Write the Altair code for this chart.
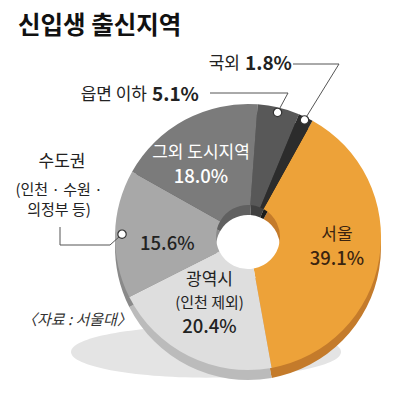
import math
import altair as alt
import numpy as np
import pandas as pd

FONT = "Noto Sans CJK KR"

# ---- data ----
categories = ["서울", "광역시", "수도권", "그외 도시지역", "읍면 이하", "국외"]
shares = [39.1, 20.4, 15.6, 18.0, 5.1, 1.8]
pct_labels = ["39.1%", "20.4%", "15.6%", "18.0%", "5.1%", "1.8%"]
title_text = "신입생 출신지역"
source_text = "〈자료 : 서울대〉"
sudo_title = "수도권"
sudo_sub = "(인천 · 수원 ·\n의정부 등)"
metro_sub = "(인천 제외)"

# ---- style / layout ----
face_colors = ["#EDA239", "#DEDEDE", "#A8A8A8", "#7B7B7B", "#585858", "#2C2C2C"]
rim_colors = ["#C47B2B", "#BBBBBB", "#8A8A8A", "#606060", "#404040", "#1B1B1B"]
START_DEG = 29
W = H = 264
CX, CY = W / 2, H / 2
R_OUT, R_IN, RIM = 133, 32, 10
LH = 24

theta_scale = alt.Scale(domain=[0, 100],
                        range=[math.radians(START_DEG), math.radians(START_DEG) + 2 * math.pi])

df = pd.DataFrame({
    "cat": categories,
    "share": shares,
    "idx": list(range(len(categories))),
    "face": face_colors,
    "rim": rim_colors,
})
cum = np.cumsum(shares)
df["mid"] = cum - np.array(shares) / 2

# inside labels: radius (px) and angular nudge (share units) of the first text line
inside = {
    "서울": dict(r=89, nudge=-3.0, color="#3a2410", lines=2),
    "광역시": dict(r=58, nudge=4.2, color="#222222", lines=3),
    "수도권": dict(r=81, nudge=-1.7, color="#222222", lines=1),
    "그외 도시지역": dict(r=96, nudge=-0.3, color="#ffffff", lines=2),
}
rows = []
for i, c in enumerate(categories):
    if c not in inside:
        continue
    st = inside[c]
    n = st["lines"]
    name = "" if n == 1 else c
    sub = metro_sub if n == 3 else ""
    rows.append(dict(cat=c, pos=float(df.loc[i, "mid"]) + st["nudge"], lr=st["r"], tc=st["color"],
                     name=name, sub=sub, pct=pct_labels[i], n=n))
lab = pd.DataFrame(rows)


def polar(share_pos, r):
    a = math.radians(START_DEG + share_pos * 3.6)
    return CX + r * math.sin(a), CY - r * math.cos(a)


# leader anchors (circles) at the middle of the small / outside-labelled slices
anchor_r = {"국외": 130, "읍면 이하": 128, "수도권": 126}
anchors = {}
for c, r in anchor_r.items():
    i = categories.index(c)
    anchors[c] = polar(float(df.loc[i, "mid"]), r)
pts = pd.DataFrame({"px": [anchors[c][0] for c in anchors], "py": [anchors[c][1] for c in anchors]})

# leader line routes (label side)
segs = []
def add(x, y, x2, y2):
    segs.append(dict(x=x, y=y, x2=x2, y2=y2))

add(177, -41, 223, -41)
add(223, -41, *anchors["국외"])
add(94, -12, 172, -12)
add(172, -12, *anchors["읍면 이하"])
add(-56, 122, -56, 140)
add(-56, 140, -6, 140)
add(-6, 140, *anchors["수도권"])
seg_df = pd.DataFrame(segs)

# ---- layers ----
shadow = alt.Chart(pd.DataFrame({"s": [1]})).mark_point(
    shape="M -1 0 A 1 0.19 0 1 0 1 0 A 1 0.19 0 1 0 -1 0 Z",
    filled=True, fill="#E4E4E4", opacity=1, strokeWidth=0, size=72900,
).encode(x=alt.value(90), y=alt.value(247))

base = alt.Chart(df)
rim = base.mark_arc(outerRadius=R_OUT, innerRadius=R_IN, strokeWidth=0).encode(
    theta=alt.Theta("share:Q", stack=True, scale=theta_scale),
    order=alt.Order("idx:Q"),
    fill=alt.Fill("rim:N", scale=None),
    x=alt.value(CX), y=alt.value(CY + RIM),
)
face = base.mark_arc(outerRadius=R_OUT, innerRadius=R_IN, strokeWidth=0).encode(
    theta=alt.Theta("share:Q", stack=True, scale=theta_scale),
    order=alt.Order("idx:Q"),
    fill=alt.Fill("face:N", scale=None),
    x=alt.value(CX), y=alt.value(CY),
)


def in_text(field, size, weight, dy, flt):
    return alt.Chart(lab).transform_filter(flt).mark_text(
        font=FONT, fontSize=size, fontWeight=weight, dy=dy,
        align="center", baseline="middle",
    ).encode(
        theta=alt.Theta("pos:Q", stack=None, scale=theta_scale),
        radius=alt.Radius("lr:Q", scale=None),
        text=alt.Text(field + ":N"),
        color=alt.Color("tc:N", scale=None),
    )


names = in_text("name", 17, "normal", 0, "datum.n > 1")
subs = in_text("sub", 15, "normal", LH - 1, "datum.n == 3")
pct1 = in_text("pct", 18.5, 500, 0, "datum.n == 1")
pct2 = in_text("pct", 18.5, 500, LH, "datum.n == 2")
pct3 = in_text("pct", 18.5, 500, 2 * LH - 1, "datum.n == 3")

lines = alt.Chart(seg_df).mark_rule(color="#555555", strokeWidth=1).encode(
    x=alt.X("x:Q", scale=None, axis=None), y=alt.Y("y:Q", scale=None, axis=None),
    x2="x2:Q", y2="y2:Q",
)
circles = alt.Chart(pts).mark_point(
    filled=True, fill="white", stroke="#333333", strokeWidth=1.2, size=70, opacity=1,
).encode(x=alt.X("px:Q", scale=None, axis=None), y=alt.Y("py:Q", scale=None, axis=None))


def txt(text, x, y, size, weight="normal", align="center", color="#222222", style="normal", lh=20):
    return alt.Chart(pd.DataFrame({"t": [text]})).mark_text(
        font=FONT, fontSize=size, fontWeight=weight, align=align, baseline="middle",
        color=color, fontStyle=style, lineBreak="\n", lineHeight=lh,
    ).encode(x=alt.value(x), y=alt.value(y), text="t:N")


i_e, i_f = categories.index("읍면 이하"), categories.index("국외")
ann = [
    txt(title_text, -98, -78, 24.5, "bold", "left", "#111111"),
    txt(categories[i_e], 31, -10, 17, "normal", "right"),
    txt(pct_labels[i_e], 36, -10, 19, "bold", "left"),
    txt(categories[i_f], 124, -41, 17, "normal", "right"),
    txt(pct_labels[i_f], 129, -41, 19, "bold", "left"),
    txt(sudo_title, -54, 57, 17),
    txt(sudo_sub, -57, 85, 15),
    txt(source_text, -94, 215, 15, "normal", "left", "#333333", "italic"),
]

chart = alt.layer(shadow, rim, face, names, subs, pct1, pct2, pct3, lines, circles, *ann).properties(
    width=W, height=H,
    padding={"left": 108, "right": 5, "top": 97, "bottom": 16},
    autosize=alt.AutoSizeParams(type="none"),
    background="white",
).configure_view(strokeWidth=0)

chart.save("out.html", embed_options={"renderer": "svg", "actions": False})
